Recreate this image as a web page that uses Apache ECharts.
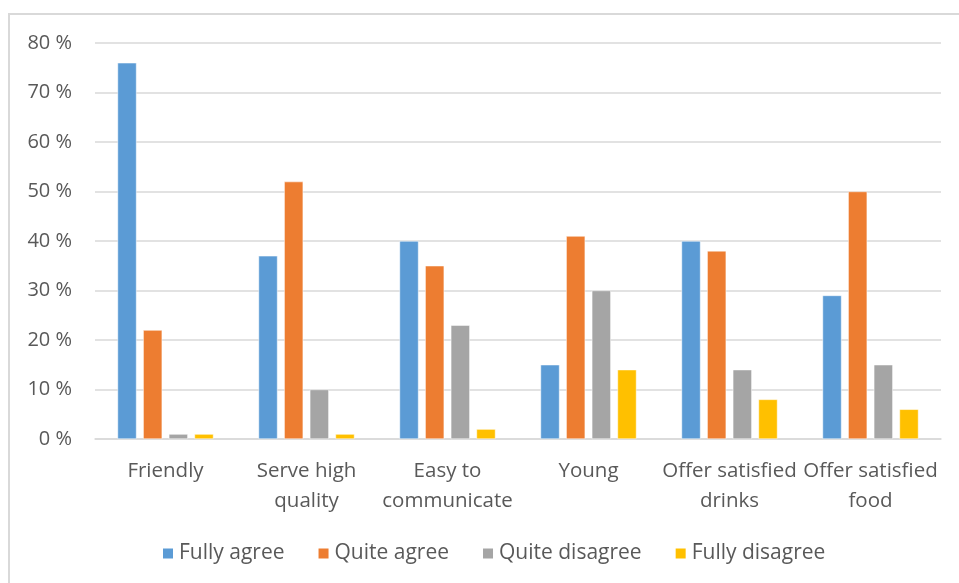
<!DOCTYPE html>
<html>
<head>
<meta charset="utf-8">
<script src="https://cdn.jsdelivr.net/npm/echarts@6/dist/echarts.min.js"></script>
<style>html,body{margin:0;padding:0;background:#fff;}#c{width:959px;height:583px;}</style>
</head>
<body>
<div id="c"></div>
<script>
const categories = ['Friendly', 'Serve high\nquality', 'Easy to\ncommunicate', 'Young', 'Offer satisfied\ndrinks', 'Offer satisfied\nfood'];
const fullyAgree = [76, 37, 40, 15, 40, 29];
const quiteAgree = [22, 52, 35, 41, 38, 50];
const quiteDisagree = [1, 10, 23, 30, 14, 15];
const fullyDisagree = [1, 1, 2, 14, 8, 6];
const seriesNames = ['Fully agree', 'Quite agree', 'Quite disagree', 'Fully disagree'];
const colors = ['#5b9bd5', '#ed7d31', '#a5a5a5', '#ffc000'];

const font = '"Open Sans", sans-serif';
const chart = echarts.init(document.getElementById('c'));
const dataSets = [fullyAgree, quiteAgree, quiteDisagree, fullyDisagree];
chart.setOption({
  animation: false,
  color: colors,
  graphic: [{
    type: 'rect',
    shape: { x: 9, y: 14, width: 960, height: 600 },
    style: { fill: 'none', stroke: '#d9d9d9', lineWidth: 2 },
    silent: true
  }],
  grid: { left: 95, right: 18, top: 43, bottom: 144 },
  legend: {
    bottom: 14,
    left: 156,
    itemWidth: 12,
    itemHeight: 12,
    itemGap: 32,
    icon: 'rect',
    textStyle: { color: '#595959', fontSize: 21, fontFamily: font },
    data: seriesNames
  },
  xAxis: {
    type: 'category',
    data: categories,
    axisLine: { show: true, lineStyle: { color: '#d9d9d9', width: 1.5 } },
    axisTick: { show: false },
    axisLabel: { color: '#595959', fontSize: 20.5, fontFamily: font, margin: 17, lineHeight: 30, interval: 0 }
  },
  yAxis: {
    type: 'value',
    min: 0,
    max: 80,
    interval: 10,
    axisLine: { show: false },
    axisTick: { show: false },
    axisLabel: { color: '#595959', fontSize: 20, fontFamily: font, margin: 23, formatter: '{value} %' },
    splitLine: { lineStyle: { color: '#d9d9d9', width: 1.5 } }
  },
  series: seriesNames.map((n, i) => ({
    name: n,
    type: 'bar',
    data: dataSets[i],
    barWidth: 19,
    barGap: '35%',
    itemStyle: { color: colors[i], borderColor: '#fff', borderWidth: 0.5 }
  }))
});
</script>
</body>
</html>
